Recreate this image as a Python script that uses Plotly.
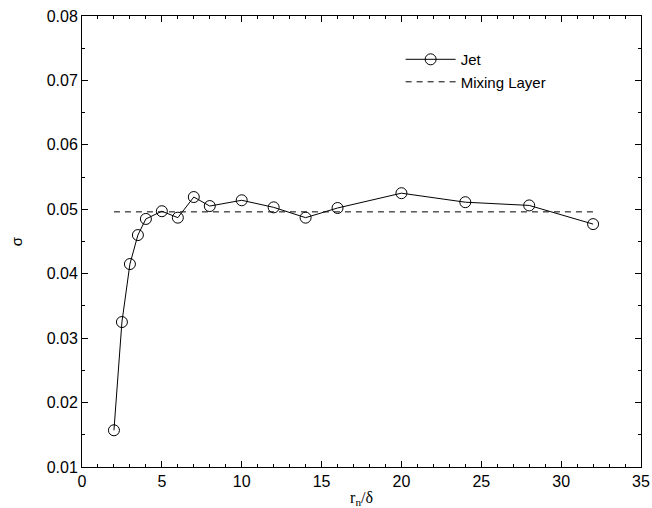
import plotly.graph_objects as go

jet_x = [2, 2.5, 3, 3.5, 4, 5, 6, 7, 8, 10, 12, 14, 16, 20, 24, 28, 32]
jet_y = [0.0157, 0.0325, 0.0415, 0.0460, 0.0485, 0.0497, 0.0487, 0.0519, 0.0505,
         0.0514, 0.0503, 0.0487, 0.0502, 0.0525, 0.0511, 0.0506, 0.0477]
mix_x = [2, 32]
mix_y = [0.0496, 0.0496]

FONT = "Liberation Sans, Arial, sans-serif"

fig = go.Figure()
fig.add_trace(go.Scatter(x=jet_x, y=jet_y, mode="lines+markers", name="Jet",
                         line=dict(color="black", width=1),
                         marker=dict(symbol="circle-open", size=11, color="black",
                                     line=dict(width=1, color="black"))))
fig.add_trace(go.Scatter(x=mix_x, y=mix_y, mode="lines", name="Mixing Layer",
                         line=dict(color="black", width=1, dash="6px,5px")))

axis_common = dict(showgrid=False, zeroline=False, showline=True, linecolor="black",
                   linewidth=1, mirror="allticks", ticks="inside", ticklen=6,
                   tickcolor="black", automargin=False,
                   tickfont=dict(family=FONT, size=16, color="black"))

fig.update_xaxes(range=[0, 35], dtick=5, tick0=0,
                 minor=dict(dtick=1, ticks="inside", ticklen=3, tickcolor="black"),
                 title=dict(text="r<sub>n</sub>/δ", font=dict(family="Liberation Serif, serif", size=16, color="black"), standoff=12),
                 **axis_common)
fig.update_yaxes(range=[0.01, 0.08], dtick=0.01, tick0=0.01, tickformat=".2f",
                 minor=dict(dtick=0.005, ticks="inside", ticklen=3, tickcolor="black"),
                 title=dict(text="σ", font=dict(family=FONT, size=15, color="black"), standoff=20),
                 **axis_common)

fig.update_layout(template="none", width=652, height=508, margin=dict(l=82, r=11, t=16, b=41),
                  plot_bgcolor="white", paper_bgcolor="white",
                  font=dict(family=FONT, color="black"),
                  showlegend=True,
                  legend=dict(x=0.57, y=0.94, xanchor="left", yanchor="top",
                              bgcolor="rgba(0,0,0,0)", font=dict(family=FONT, size=15, color="black"),
                              tracegroupgap=0, itemwidth=50))

fig.write_html("out.html")
